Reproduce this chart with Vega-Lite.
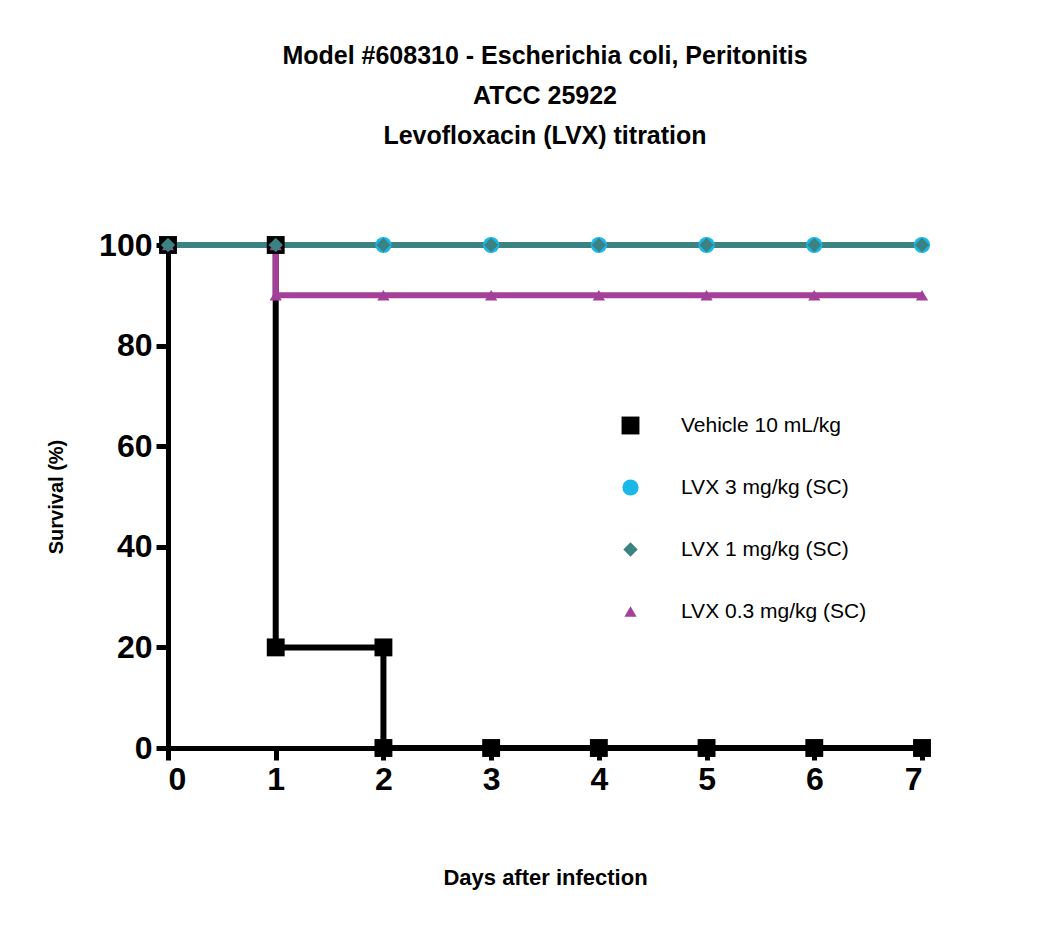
{
  "$schema": "https://vega.github.io/schema/vega-lite/v6.json",
  "autosize": "none",
  "width": 754,
  "height": 503,
  "padding": {"left": 168, "top": 245, "right": 128, "bottom": 185},
  "background": "white",
  "config": {"font": "Liberation Sans", "view": {"stroke": null}},
  "title": {
    "text": ["Model #608310 - Escherichia coli, Peritonitis", "ATCC 25922", "Levofloxacin (LVX) titration"],
    "fontSize": 25, "fontWeight": "bold", "lineHeight": 40, "offset": 80, "color": "black", "anchor": "middle"
  },
  "data": {"values": [
    {"series": "LVX 3 mg/kg (SC)", "day": 0, "surv": 100, "line": true},
    {"series": "LVX 3 mg/kg (SC)", "day": 1, "surv": 100, "line": true},
    {"series": "LVX 3 mg/kg (SC)", "day": 2, "surv": 100, "line": true},
    {"series": "LVX 3 mg/kg (SC)", "day": 3, "surv": 100, "line": true},
    {"series": "LVX 3 mg/kg (SC)", "day": 4, "surv": 100, "line": true},
    {"series": "LVX 3 mg/kg (SC)", "day": 5, "surv": 100, "line": true},
    {"series": "LVX 3 mg/kg (SC)", "day": 6, "surv": 100, "line": true},
    {"series": "LVX 3 mg/kg (SC)", "day": 7, "surv": 100, "line": true},
    {"series": "Vehicle 10 mL/kg", "day": 0, "surv": 100, "line": true},
    {"series": "Vehicle 10 mL/kg", "day": 1, "surv": 100, "line": false},
    {"series": "Vehicle 10 mL/kg", "day": 1, "surv": 20, "line": true},
    {"series": "Vehicle 10 mL/kg", "day": 2, "surv": 20, "line": false},
    {"series": "Vehicle 10 mL/kg", "day": 2, "surv": 0, "line": true},
    {"series": "Vehicle 10 mL/kg", "day": 3, "surv": 0, "line": true},
    {"series": "Vehicle 10 mL/kg", "day": 4, "surv": 0, "line": true},
    {"series": "Vehicle 10 mL/kg", "day": 5, "surv": 0, "line": true},
    {"series": "Vehicle 10 mL/kg", "day": 6, "surv": 0, "line": true},
    {"series": "Vehicle 10 mL/kg", "day": 7, "surv": 0, "line": true},
    {"series": "LVX 0.3 mg/kg (SC)", "day": 0, "surv": 100, "line": true},
    {"series": "LVX 0.3 mg/kg (SC)", "day": 1, "surv": 100, "line": false},
    {"series": "LVX 0.3 mg/kg (SC)", "day": 1, "surv": 90, "line": true},
    {"series": "LVX 0.3 mg/kg (SC)", "day": 2, "surv": 90, "line": true},
    {"series": "LVX 0.3 mg/kg (SC)", "day": 3, "surv": 90, "line": true},
    {"series": "LVX 0.3 mg/kg (SC)", "day": 4, "surv": 90, "line": true},
    {"series": "LVX 0.3 mg/kg (SC)", "day": 5, "surv": 90, "line": true},
    {"series": "LVX 0.3 mg/kg (SC)", "day": 6, "surv": 90, "line": true},
    {"series": "LVX 0.3 mg/kg (SC)", "day": 7, "surv": 90, "line": true},
    {"series": "LVX 1 mg/kg (SC)", "day": 0, "surv": 100, "line": true},
    {"series": "LVX 1 mg/kg (SC)", "day": 1, "surv": 100, "line": true},
    {"series": "LVX 1 mg/kg (SC)", "day": 2, "surv": 100, "line": true},
    {"series": "LVX 1 mg/kg (SC)", "day": 3, "surv": 100, "line": true},
    {"series": "LVX 1 mg/kg (SC)", "day": 4, "surv": 100, "line": true},
    {"series": "LVX 1 mg/kg (SC)", "day": 5, "surv": 100, "line": true},
    {"series": "LVX 1 mg/kg (SC)", "day": 6, "surv": 100, "line": true},
    {"series": "LVX 1 mg/kg (SC)", "day": 7, "surv": 100, "line": true}
  ]},
  "encoding": {
    "x": {"field": "day", "type": "quantitative", "scale": {"domain": [0, 7], "nice": false},
      "axis": {"values": [0,1,2,3,4,5,6,7], "title": "Days after infection", "grid": false,
        "domainColor": "black", "domainWidth": 5, "tickColor": "black", "tickWidth": 5, "tickSize": 12,
        "labelFontSize": 32, "labelFontWeight": "bold", "labelColor": "black", "labelPadding": 4,
        "titleFontSize": 22, "titleFontWeight": "bold", "titleColor": "black", "titlePadding": 72}},
    "y": {"field": "surv", "type": "quantitative", "scale": {"domain": [0, 100], "nice": false},
      "axis": {"values": [0,20,40,60,80,100], "title": "Survival (%)", "grid": false,
        "domainColor": "black", "domainWidth": 5, "tickColor": "black", "tickWidth": 5, "tickSize": 12,
        "labelFontSize": 32, "labelFontWeight": "bold", "labelColor": "black", "labelPadding": 4,
        "titleFontSize": 20, "titleFontWeight": "bold", "titleColor": "black", "titlePadding": 32}},
    "color": {"field": "series", "type": "nominal",
      "scale": {"domain": ["Vehicle 10 mL/kg", "LVX 3 mg/kg (SC)", "LVX 1 mg/kg (SC)", "LVX 0.3 mg/kg (SC)"],
        "range": ["#000000", "#1ab8e8", "#3b8383", "#a4409a"]},
      "legend": {"title": null, "orient": "none", "legendX": 452, "legendY": 170,
        "labelFontSize": 21, "labelColor": "black", "symbolSize": 300, "symbolStrokeWidth": 0,
        "rowPadding": 40, "labelOffset": 40, "labelLimit": 400, "labelFont": "Liberation Sans"}},
    "shape": {"field": "series", "type": "nominal",
      "scale": {"domain": ["Vehicle 10 mL/kg", "LVX 3 mg/kg (SC)", "LVX 1 mg/kg (SC)", "LVX 0.3 mg/kg (SC)"],
        "range": ["square", "circle", "diamond", "triangle-up"]},
      "legend": null}
  },
  "layer": [
    {"transform": [{"filter": "datum.line"}],
     "mark": {"type": "line", "interpolate": "step-after", "strokeWidth": 6},
     "encoding": {"detail": {"field": "series"}, "shape": null, "order": {"field": "day"}}},
    {"mark": {"type": "point", "filled": true, "opacity": 1},
     "encoding": {"size": {"field": "series", "type": "nominal",
       "scale": {"domain": ["Vehicle 10 mL/kg", "LVX 3 mg/kg (SC)", "LVX 1 mg/kg (SC)", "LVX 0.3 mg/kg (SC)"],
         "range": [320, 150, 420, 320]}, "legend": null}}}
  ]
}
